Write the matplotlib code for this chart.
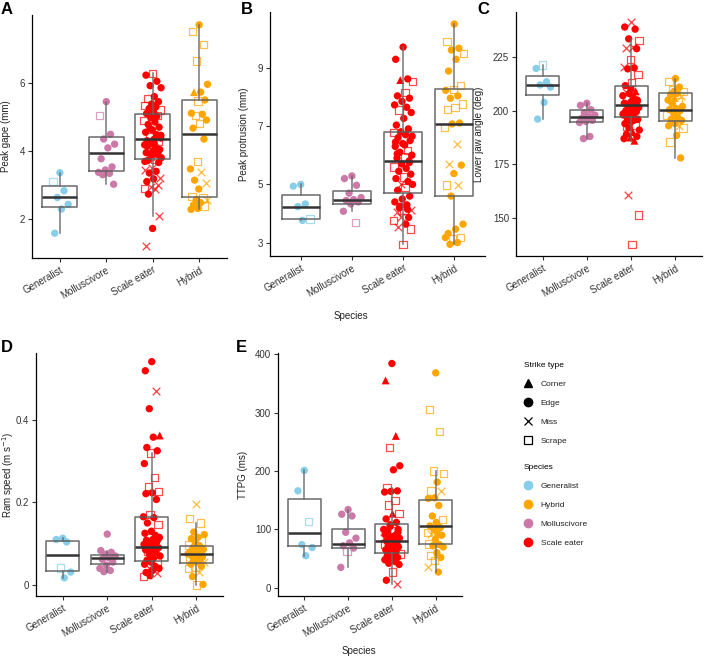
import matplotlib
matplotlib.use("Agg")
import matplotlib.pyplot as plt
from matplotlib.lines import Line2D

plt.rcParams['font.family'] = ['Liberation Sans', 'DejaVu Sans']

species = ["Generalist", "Molluscivore", "Scale eater", "Hybrid"]
colors = ["#87CEEB", "#CC79A7", "#FF0000", "#FFA500"]

# strike type codes: C = Corner, E = Edge, M = Miss, S = Scrape

# ---- A: peak gape (mm)
gape_gen = [3.36, 3.10, 2.83, 2.63, 2.43, 2.29, 1.58]
gape_gen_t = "ESEEEEE"
gape_mol = [5.45, 5.05, 4.49, 4.35, 4.20, 4.09, 3.77, 3.53, 3.44, 3.37, 3.34, 3.30, 3.02]
gape_mol_t = "ESEEEEEEEEEEE"
gape_sca = [6.28, 6.23, 6.05, 5.92, 5.86, 5.60, 5.55, 5.45, 5.38, 5.33,
            5.30, 5.25, 5.20, 5.15, 5.10, 5.05, 4.98, 4.90, 4.85, 4.78,
            4.70, 4.62, 4.55, 4.48, 4.42, 4.38, 4.34, 4.30, 4.27, 4.22,
            4.18, 4.12, 4.08, 4.04, 4.00, 3.95, 3.90, 3.85, 3.80, 3.76,
            3.72, 3.66, 3.50, 3.44, 3.40, 3.35, 3.20, 3.18, 3.10, 3.00,
            2.95, 2.90, 2.88, 2.73, 2.08, 1.72, 1.20,
            5.02, 4.66, 4.46, 4.24, 4.14, 3.98, 3.88, 3.69]
gape_sca_t = ("SEEEEESEES" "EESEESESEE" "EEEESEEESE" "EESEEEESES"
              "EEMMEEMEEM" "MSMEMEM" "EEEEEEEE")
gape_hyb = [7.71, 7.51, 7.14, 6.65, 5.96, 5.73, 5.73, 5.50, 5.47, 5.11,
            5.08, 5.04, 4.91, 4.81, 4.67, 4.35, 3.68, 3.47, 3.39, 3.14,
            3.05, 2.88, 2.66, 2.62, 2.56, 2.55, 2.48, 2.41, 2.38, 2.31,
            2.28]
gape_hyb_t = "ESSSEECESE" "ESESEESEME" "MESSEMEESE" "E"
gape_q1 = [2.35, 3.42, 3.77, 2.65]
gape_med = [2.64, 3.93, 4.36, 4.50]
gape_q3 = [2.98, 4.40, 5.09, 5.50]
gape_lo = [1.58, 3.02, 2.08, 2.28]
gape_hi = [3.36, 5.45, 6.28, 7.71]

# ---- B: peak protrusion (mm)
prot_gen = [5.00, 4.94, 4.33, 4.24, 3.82, 3.77]
prot_gen_t = "EEEESE"
prot_mol = [5.29, 5.20, 4.97, 4.70, 4.55, 4.48, 4.45, 4.40, 4.33, 4.08, 3.70]
prot_mol_t = "EEEEEEEEEES"
prot_sca = [9.70, 9.28, 8.61, 8.57, 8.53, 8.15, 8.03, 7.95, 7.84, 7.72,
            7.64, 7.55, 7.46, 7.26, 7.03, 6.90, 6.80, 6.77, 6.70, 6.60,
            6.50, 6.40, 6.30, 6.17, 6.10, 6.00, 5.94, 5.90, 5.80, 5.70,
            5.60, 5.55, 5.45, 5.35, 5.25, 5.20, 5.10, 5.03, 5.00, 4.90,
            4.80, 4.60, 4.50, 4.40, 4.30, 4.20, 4.13, 4.10, 4.05, 3.87,
            3.87, 3.76, 3.64, 3.53, 3.47, 2.95, 6.45,
            4.15, 4.25, 6.65, 6.35, 6.05, 5.75]
prot_sca_t = ("EEECSSEEEE" "ESEEEEESEE" "EEESEESEEE" "SEEESEEMES"
              "EEEEEEMSME" "MSEMSSE" "EEEEEE")
prot_hyb = [10.49, 9.88, 9.66, 9.60, 9.49, 9.28, 8.88, 8.38, 8.24, 8.22,
            8.03, 7.95, 7.75, 7.64, 7.57, 7.10, 7.07, 6.95, 6.38, 5.71,
            5.66, 5.37, 4.98, 4.98, 4.60, 3.64, 3.47, 3.32, 3.18, 3.13,
            3.18, 3.01, 2.95]
prot_hyb_t = "ESEESEESSE" "EESSSEESMM" "EESMEEEESS" "EEE"
prot_q1 = [3.82, 4.33, 4.70, 4.60]
prot_med = [4.23, 4.48, 5.80, 7.07]
prot_q3 = [4.64, 4.77, 6.78, 8.27]
prot_lo = [3.77, 4.08, 2.95, 2.95]
prot_hi = [5.00, 5.29, 9.70, 10.49]

# ---- C: lower jaw angle (deg)
ang_gen = [221.3, 219.7, 213.5, 212.0, 211.0, 203.9, 196.1]
ang_gen_t = "SEEEEEE"
ang_mol = [203.5, 202.5, 200.5, 199.0, 198.0, 197.5, 196.5, 195.5, 195.0, 194.5, 188.0, 187.0]
ang_mol_t = "EEEEEEEEEEEE"
ang_sca = [241.4, 239.0, 238.0, 233.5, 232.7, 229.6, 229.0, 228.9, 224.0, 220.5,
           220.0, 219.5, 216.8, 213.0, 211.7, 209.0, 208.0, 207.0, 206.0, 205.5,
           205.0, 204.0, 203.5, 203.0, 202.0, 201.5, 201.0, 200.0, 199.5, 199.0,
           198.0, 197.0, 196.5, 196.0, 195.0, 194.0, 193.0, 192.0, 191.0, 190.0,
           189.0, 188.0, 187.5, 187.0, 186.0, 160.8, 151.4, 137.8, 208.5, 202.5,
           200.5, 198.5, 195.5, 192.5, 204.5, 210.0]
ang_sca_t = ("MEEESMMESM" "EESSECEEES" "EEEEEEEEEE" "EEEEEESEEC"
             "EECECMSSME" "EEESEE")
ang_hyb = [215.0, 213.5, 211.0, 210.0, 209.0, 208.0, 207.5, 207.0, 206.0, 205.0,
           204.0, 203.5, 202.0, 201.0, 200.5, 200.0, 199.0, 198.0, 197.0, 196.0,
           195.5, 194.0, 193.0, 193.0, 195.0, 192.0, 188.5, 185.5, 178.0, 209.0]
ang_hyb_t = "ESESSEEMCE" "SEEEEEESEE" "EEEMMSESEE"
ang_q1 = [207.5, 194.8, 196.9, 195.2]
ang_med = [212.0, 196.9, 202.7, 200.3]
ang_q3 = [216.3, 200.2, 211.5, 208.1]
ang_lo = [196.1, 187.0, 186.0, 178.0]
ang_hi = [221.3, 203.5, 233.5, 215.0]

# ---- D: ram speed (m/s)
ram_gen = [0.113, 0.110, 0.104, 0.041, 0.031, 0.017]
ram_gen_t = "EEESEE"
ram_mol = [0.123, 0.083, 0.079, 0.074, 0.070, 0.066, 0.062, 0.055, 0.048, 0.040, 0.035, 0.032]
ram_mol_t = "EEEEEEEEEEEE"
ram_sca = [0.541, 0.519, 0.470, 0.427, 0.362, 0.358, 0.333, 0.325, 0.320, 0.294,
           0.260, 0.238, 0.226, 0.223, 0.221, 0.207, 0.171, 0.165, 0.163, 0.150,
           0.146, 0.130, 0.125, 0.120, 0.115, 0.115, 0.110, 0.108, 0.105, 0.100,
           0.098, 0.095, 0.092, 0.090, 0.088, 0.085, 0.080, 0.075, 0.070, 0.065,
           0.060, 0.056, 0.055, 0.050, 0.045, 0.040, 0.040, 0.035, 0.030, 0.028,
           0.022, 0.020, 0.102, 0.082, 0.112, 0.062]
ram_sca_t = ("EEMECEEESE" "SSSEEESEEE" "SEEESEEEEE" "EEEEEEEEEE"
             "ESEEEMEEEM" "ESSSEE")
ram_hyb = [0.195, 0.161, 0.150, 0.128, 0.122, 0.115, 0.112, 0.106, 0.100, 0.097,
           0.095, 0.090, 0.086, 0.083, 0.080, 0.078, 0.075, 0.075, 0.072, 0.070,
           0.067, 0.064, 0.060, 0.060, 0.058, 0.055, 0.055, 0.050, 0.045, 0.043,
           0.040, 0.030, 0.020, 0.001, 0.000]
ram_hyb_t = "MSSEEEESES" "EEEEEESEEE" "EESEEMEEES" "SMEES"
ram_q1 = [0.033, 0.051, 0.0585, 0.053]
ram_med = [0.072, 0.065, 0.091, 0.075]
ram_q3 = [0.107, 0.072, 0.165, 0.0935]
ram_lo = [0.017, 0.032, 0.020, 0.000]
ram_hi = [0.113, 0.083, 0.320, 0.150]

# ---- E: TTPG (ms)
ttpg_gen = [201, 166, 113, 74, 69, 55]
ttpg_gen_t = "EESEEE"
ttpg_mol = [134, 126, 123, 95, 85, 77, 72, 68, 62, 35]
ttpg_mol_t = "EEEEEEEESE"
ttpg_sca = [384, 355, 260, 240, 209, 202, 171, 166, 165, 164,
            149, 142, 127, 127, 118, 112, 105, 100, 98, 98,
            95, 92, 92, 90, 88, 85, 83, 80, 78, 75,
            75, 75, 72, 70, 68, 65, 62, 60, 58, 58,
            55, 52, 50, 48, 45, 42, 40, 27, 13, 6,
            108, 85, 70, 65, 100]
ttpg_sca_t = ("ECCSEESEEE" "SSSCEEEESE" "EMEEEEEEEM" "SEEEEEEESE"
              "EEEEEEESEM" "EMSEE")
ttpg_hyb = [368, 305, 268, 200, 196, 181, 166, 166, 154, 153,
            141, 123, 117, 112, 106, 103, 100, 95, 92, 92,
            90, 83, 75, 74, 72, 70, 60, 55, 52, 47,
            35, 27]
ttpg_hyb_t = "ESSSSESMEE" "EESEEEESEM" "EESEEEESES" "ME"
ttpg_q1 = [71.4, 67.5, 59, 75]
ttpg_med = [94.7, 74.8, 80.5, 105]
ttpg_q3 = [152.5, 101.5, 110, 150]
ttpg_lo = [55, 35, 6, 27]
ttpg_hi = [201, 134, 171, 200]

W, H = 712, 662
fig = plt.figure(figsize=(W / 100, H / 100), dpi=100)


def px_rect(left, top, right, bottom):
    return [left / W, 1 - bottom / H, (right - left) / W, (bottom - top) / H]


def draw_points(ax, pos, vals, types, color):
    for k, (v, t) in enumerate(zip(vals, types)):
        x = pos + (((k * 0.618034) + 0.5) % 1 - 0.5) * 0.38
        if t == "E":
            ax.scatter(x, v, s=28, marker="o", color=color, edgecolors="none", zorder=2)
        elif t == "C":
            ax.scatter(x, v, s=32, marker="^", color=color, edgecolors="none", zorder=2)
        elif t == "M":
            ax.scatter(x, v, s=30, marker="x", color=color, linewidths=0.9, alpha=0.75, zorder=2)
        else:
            ax.scatter(x, v, s=28, marker="s", facecolors="none", edgecolors=color,
                       linewidths=0.9, alpha=0.7, zorder=2)


def panel(rect, groups, q1, med, q3, lo, hi, ylim, yticks, yticklabels, ylabel, ylabel_x, letter, letter_xy):
    ax = fig.add_axes(px_rect(*rect))
    for i, (vals, types) in enumerate(groups):
        draw_points(ax, i + 1, vals, types, colors[i])
    stats = []
    for i in range(4):
        stats.append(dict(med=med[i], q1=q1[i], q3=q3[i], whislo=lo[i], whishi=hi[i], fliers=[]))
    ax.bxp(stats, positions=[1, 2, 3, 4], widths=0.75, showfliers=False, showcaps=False,
           boxprops=dict(color="#5a5a5a", lw=1.1, alpha=0.9),
           medianprops=dict(color="#333333", lw=1.8),
           whiskerprops=dict(color="#6a6a6a", lw=1.1, alpha=0.9),
           zorder=3)
    ax.set_xlim(0.4, 4.6)
    ax.set_ylim(*ylim)
    ax.set_yticks(yticks)
    ax.set_yticklabels(yticklabels)
    ax.set_xticks([1, 2, 3, 4])
    ax.set_xticklabels(species, rotation=30, ha="right", rotation_mode="anchor")
    ax.spines["top"].set_visible(False)
    ax.spines["right"].set_visible(False)
    ax.spines["left"].set_linewidth(0.9)
    ax.spines["bottom"].set_linewidth(0.9)
    ax.tick_params(direction="out", length=3, width=0.8, color="#333333",
                   labelsize=7, labelcolor="#333333", pad=2)
    ax.set_ylabel(ylabel, fontsize=7, color="#222222", va="center")
    yc = 1 - (rect[1] + rect[3]) / 2 / H
    ax.yaxis.set_label_coords(ylabel_x / W, yc, transform=fig.transFigure)
    fig.text(letter_xy[0] / W, 1 - letter_xy[1] / H, letter, fontsize=12,
             fontweight="bold", va="top", ha="left")
    return ax


panel((32, 15, 227, 258),
      [(gape_gen, gape_gen_t), (gape_mol, gape_mol_t), (gape_sca, gape_sca_t), (gape_hyb, gape_hyb_t)],
      gape_q1, gape_med, gape_q3, gape_lo, gape_hi,
      (0.85, 8.0), [2, 4, 6], ["2", "4", "6"], "Peak gape (mm)", 6, "A", (1, 2))

panel((270, 12, 485, 256),
      [(prot_gen, prot_gen_t), (prot_mol, prot_mol_t), (prot_sca, prot_sca_t), (prot_hyb, prot_hyb_t)],
      prot_q1, prot_med, prot_q3, prot_lo, prot_hi,
      (2.55, 10.9), [3, 5, 7, 9], ["3", "5", "7", "9"], "Peak protrusion (mm)", 244, "B", (241, 2))

panel((516, 12, 702, 256),
      [(ang_gen, ang_gen_t), (ang_mol, ang_mol_t), (ang_sca, ang_sca_t), (ang_hyb, ang_hyb_t)],
      ang_q1, ang_med, ang_q3, ang_lo, ang_hi,
      (132.3, 246.0), [150, 175, 200, 225], ["150", "175", "200", "225"],
      "Lower jaw angle (deg)", 479, "C", (477, 2))

panel((36, 353, 223, 596),
      [(ram_gen, ram_gen_t), (ram_mol, ram_mol_t), (ram_sca, ram_sca_t), (ram_hyb, ram_hyb_t)],
      ram_q1, ram_med, ram_q3, ram_lo, ram_hi,
      (-0.027, 0.562), [0, 0.2, 0.4], ["0", "0.2", "0.4"],
      r"Ram speed (m s$^{-1}$)", 8, "D", (1, 340))

panel((278, 353, 462, 596),
      [(ttpg_gen, ttpg_gen_t), (ttpg_mol, ttpg_mol_t), (ttpg_sca, ttpg_sca_t), (ttpg_hyb, ttpg_hyb_t)],
      ttpg_q1, ttpg_med, ttpg_q3, ttpg_lo, ttpg_hi,
      (-14, 402), [0, 100, 200, 300, 400], ["0", "100", "200", "300", "400"],
      "TTPG (ms)", 243, "E", (236, 340))

fig.text(351 / W, 1 - 316 / H, "Species", fontsize=7, color="#222222", ha="center", va="center")
fig.text(359 / W, 1 - 651 / H, "Species", fontsize=7, color="#222222", ha="center", va="center")

# legends
strike_labels = ["Corner", "Edge", "Miss", "Scrape"]
strike_handles = [
    Line2D([], [], marker="^", color="black", linestyle="None", markersize=6),
    Line2D([], [], marker="o", color="black", linestyle="None", markersize=6),
    Line2D([], [], marker="x", color="black", linestyle="None", markersize=6, markeredgewidth=0.9),
    Line2D([], [], marker="s", color="black", markerfacecolor="none", linestyle="None",
           markersize=5.5, markeredgewidth=0.9),
]
legend_species = ["Generalist", "Hybrid", "Molluscivore", "Scale eater"]
species_handles = [
    Line2D([], [], marker="o", color=colors[species.index(s)], linestyle="None", markersize=6)
    for s in legend_species
]

common = dict(loc="upper left", frameon=False, fontsize=6, title_fontsize=6,
              alignment="left", borderpad=0, borderaxespad=0, handlelength=1.0,
              handletextpad=1.0, labelspacing=1.2, handleheight=1.2)
leg1 = fig.legend(strike_handles, strike_labels, title="Strike type",
                  bbox_to_anchor=(524 / W, 1 - 362 / H), **common)
leg2 = fig.legend(species_handles, legend_species, title="Species",
                  bbox_to_anchor=(524 / W, 1 - 464 / H), **common)
for leg in (leg1, leg2):
    for txt in leg.get_texts():
        txt.set_color("#222222")

fig.savefig("out.png", dpi=100)
